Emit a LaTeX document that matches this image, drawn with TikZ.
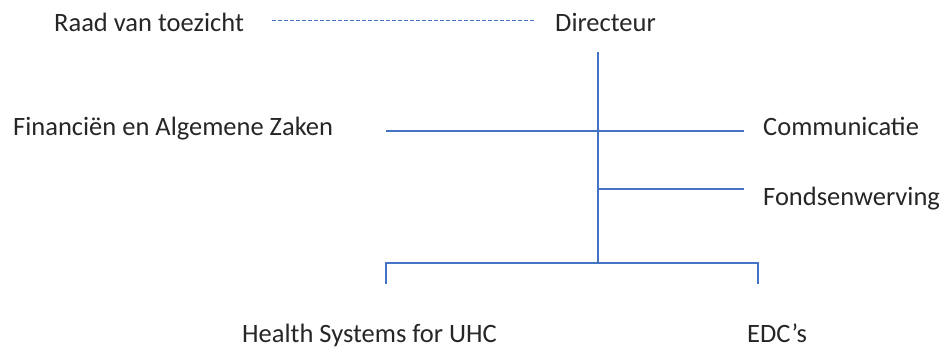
\documentclass[tikz,border=0pt]{standalone}
\usepackage{fontspec}
\setmainfont{Carlito}
\definecolor{lineblue}{HTML}{4472C4}
\definecolor{txt}{HTML}{262626}
\begin{document}
\begin{tikzpicture}[x=1pt,y=-1pt,
  lbl/.style={anchor=base west,inner sep=0pt,text=txt,font=\fontsize{26.5}{30}\selectfont},
  conn/.style={draw=lineblue,line width=1.3pt},
  dconn/.style={draw=lineblue,line width=0.9pt,dash pattern=on 4pt off 2pt}]
\useasboundingbox (0,0) rectangle (941,347);
\node[lbl] (raad) at (54,32) {Raad van toezicht};
\node[lbl] (dir) at (555,32) {Directeur};
\node[lbl] (fin) at (13,136) {Financiën en Algemene Zaken};
\node[lbl] (com) at (763,136) {Communicatie};
\node[lbl] (fonds) at (763,206) {Fondsenwerving};
\node[lbl] (hs) at (242,342) {Health Systems for UHC};
\node[lbl] (edc) at (747,342) {EDC’s};
\coordinate (d1) at (272,20);
\coordinate (d2) at (534,20);
\coordinate (top) at (598,52);
\coordinate (mid) at (598,131);
\coordinate (fl) at (386,131);
\coordinate (cr) at (744,131);
\coordinate (fj) at (598,189);
\coordinate (fr) at (744,189);
\coordinate (bot) at (598,263);
\coordinate (bl) at (386,263);
\coordinate (br) at (758,263);
\coordinate (blt) at (386,284);
\coordinate (brt) at (758,284);
\draw[dconn] (d1) -- (d2);
\draw[conn] (top) -- (bot);
\draw[conn] (fl) -- (cr);
\draw[conn] (fj) -- (fr);
\draw[conn] (blt) -- (bl) -- (br) -- (brt);
\end{tikzpicture}
\end{document}
